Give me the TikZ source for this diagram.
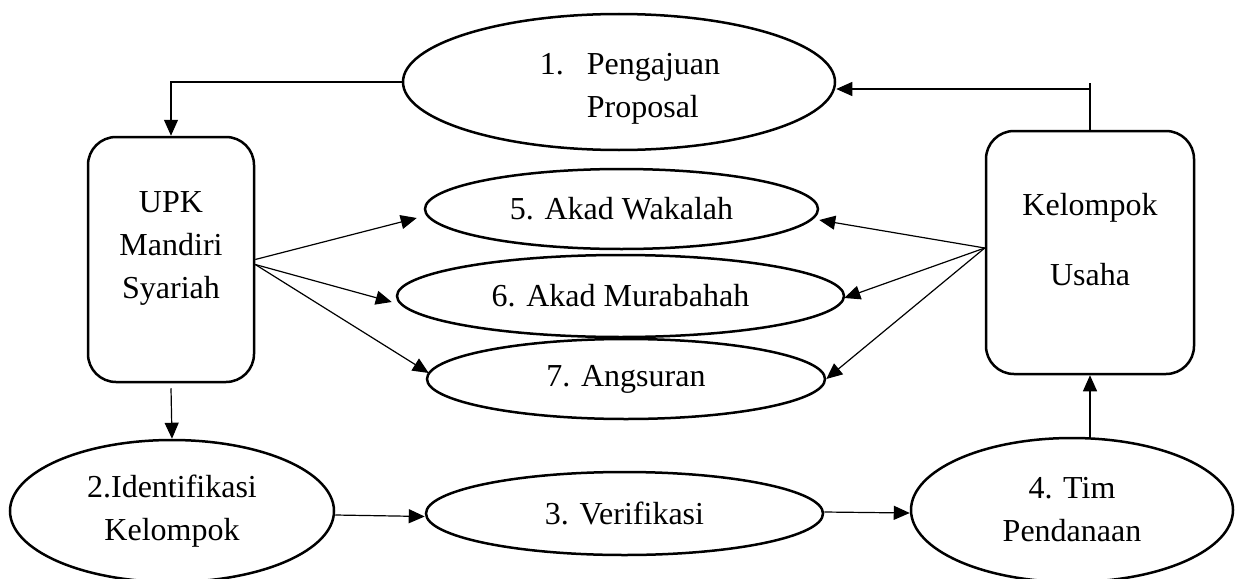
\documentclass[tikz,border=0pt]{standalone}
\usepackage{fontspec}
\setmainfont{Liberation Serif}
\usetikzlibrary{shapes.geometric,arrows.meta}
\begin{document}
\begin{tikzpicture}[x=1pt,y=-1pt,
  font=\fontsize{32}{43}\selectfont,
  oval/.style={ellipse, draw, line width=2.5pt, inner sep=0pt, align=center},
  rbox/.style={draw, line width=2.5pt, rounded corners=28pt, inner sep=0pt},
  lbl/.style={align=center, inner sep=0pt},
  conn/.style={line width=1.2pt, -{Triangle[length=16pt,width=14pt]}},
  plainline/.style={line width=1.2pt}]
\useasboundingbox (0,0) rectangle (1238,578);

% shapes
\node[oval, minimum width=432pt, minimum height=136pt] (e1) at (619,82) {};
\node[lbl] (e1t) at (630,87) {\begin{tabular}{@{}l@{\hspace{23pt}}l@{}}1. & Pengajuan\\ & Proposal\end{tabular}};

\node[rbox, minimum width=166pt, minimum height=245pt] (upk) at (171,259.5) {};
\node[lbl] (upkt) at (171,248) {UPK\\Mandiri\\Syariah};

\node[rbox, minimum width=208pt, minimum height=243pt] (ku) at (1090,252.5) {};
\node[lbl] (kut) at (1090,240) {Kelompok\\[27pt]Usaha};

\node[oval, minimum width=393pt, minimum height=80pt] (e5) at (621.5,209) {5. Akad Wakalah};
\node[oval, minimum width=447pt, minimum height=82pt] (e6) at (620.5,296) {6. Akad Murabahah};
\node[oval, minimum width=398pt, minimum height=80pt] (e7) at (626,379) {7. Angsuran};

\node[oval, minimum width=324pt, minimum height=142pt] (e2) at (172,511) {2.Identifikasi\\Kelompok};
\node[oval, minimum width=397pt, minimum height=83pt] (e3) at (624.5,513.5) {3. Verifikasi};
\node[oval, minimum width=322pt, minimum height=144pt] (e4) at (1072,510) {4. Tim\\Pendanaan};

% connectors
\draw[conn] (e1.west) -| (upk.north);
\coordinate (kt) at (ku.north |- 0,83);
\coordinate (kj) at (ku.north |- 0,89);
\draw[plainline] (ku.north) -- (kt);
\draw[conn] (kj) -- (kj -| e1.east);

\draw[conn] (upk.east) -- ([shift={(-7,9)}]e5.west);
\draw[conn] ([shift={(0,5)}]upk.east) -- ([shift={(-4,6)}]e6.west);
\draw[conn] ([shift={(0,5)}]upk.east) -- ([shift={(3,-6)}]e7.west);

\draw[conn] ([shift={(0,-4.5)}]ku.west) -- ([shift={(0,11)}]e5.east);
\draw[conn] ([shift={(0,-4.5)}]ku.west) -- ([shift={(-1,2)}]e6.east);
\draw[conn] ([shift={(0,-4.5)}]ku.west) -- (e7.east);

\draw[conn] ([shift={(0,5)}]upk.south) -- (e2.north);
\draw[conn] ([shift={(0,4)}]e2.east) -- ([shift={(0,3)}]e3.west);
\draw[conn] ([shift={(0,-1.5)}]e3.east) -- ([shift={(0,3)}]e4.west);
\draw[conn] (ku.south |- e4.north) -- (ku.south);
\end{tikzpicture}
\end{document}
